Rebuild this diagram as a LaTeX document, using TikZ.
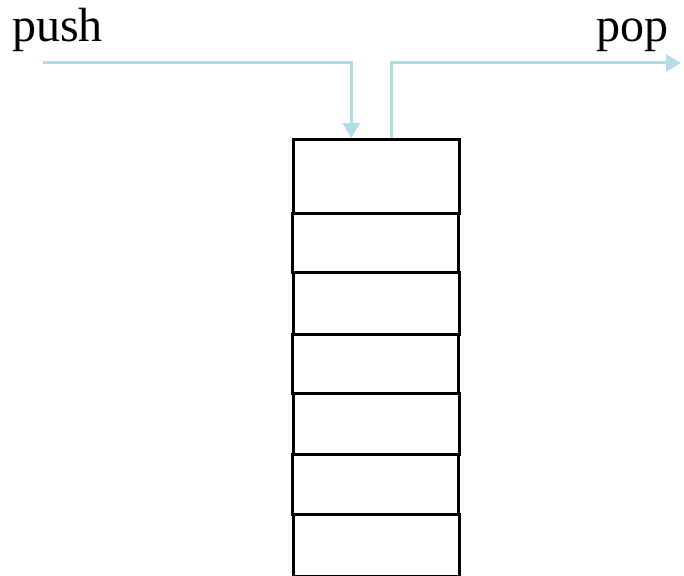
\documentclass[tikz,border=0pt]{standalone}
\usepackage{fontspec}
\setmainfont{Liberation Serif}
\usetikzlibrary{arrows.meta}
\definecolor{arrowblue}{RGB}{178,221,227}
\begin{document}
\begin{tikzpicture}[x=1pt,y=-1pt,
  cell/.style={draw=black, line width=2.6pt, minimum width=166pt, inner sep=0pt, anchor=north west},
  flow/.style={draw=arrowblue, line width=3pt, -{Triangle[length=15pt,width=17pt]}},
  lbl/.style={font=\fontsize{48}{50}\selectfont, inner sep=0pt}]
\useasboundingbox (0,0) rectangle (684,575);
\node[cell, minimum height=74pt] (c1) at (292,138) {};
\node[cell, minimum height=59pt] (c2) at (291,212) {};
\node[cell, minimum height=62pt] (c3) at (292,271) {};
\node[cell, minimum height=59pt] (c4) at (291,333) {};
\node[cell, minimum height=61pt] (c5) at (292,392) {};
\node[cell, minimum height=60pt] (c6) at (291,453) {};
\node[cell, minimum height=62pt] (c7) at (292,513) {};
\node[lbl, anchor=base west] (push) at (12,42) {push};
\node[lbl, anchor=base east] (pop) at (669,42) {pop};
\coordinate (ps) at (43,63);
\coordinate (pe) at (681,63);
\draw[flow] (ps) -| ([xshift=-25pt]c1.north);
\draw[flow] ([xshift=15pt]c1.north) |- (pe);
\end{tikzpicture}
\end{document}
